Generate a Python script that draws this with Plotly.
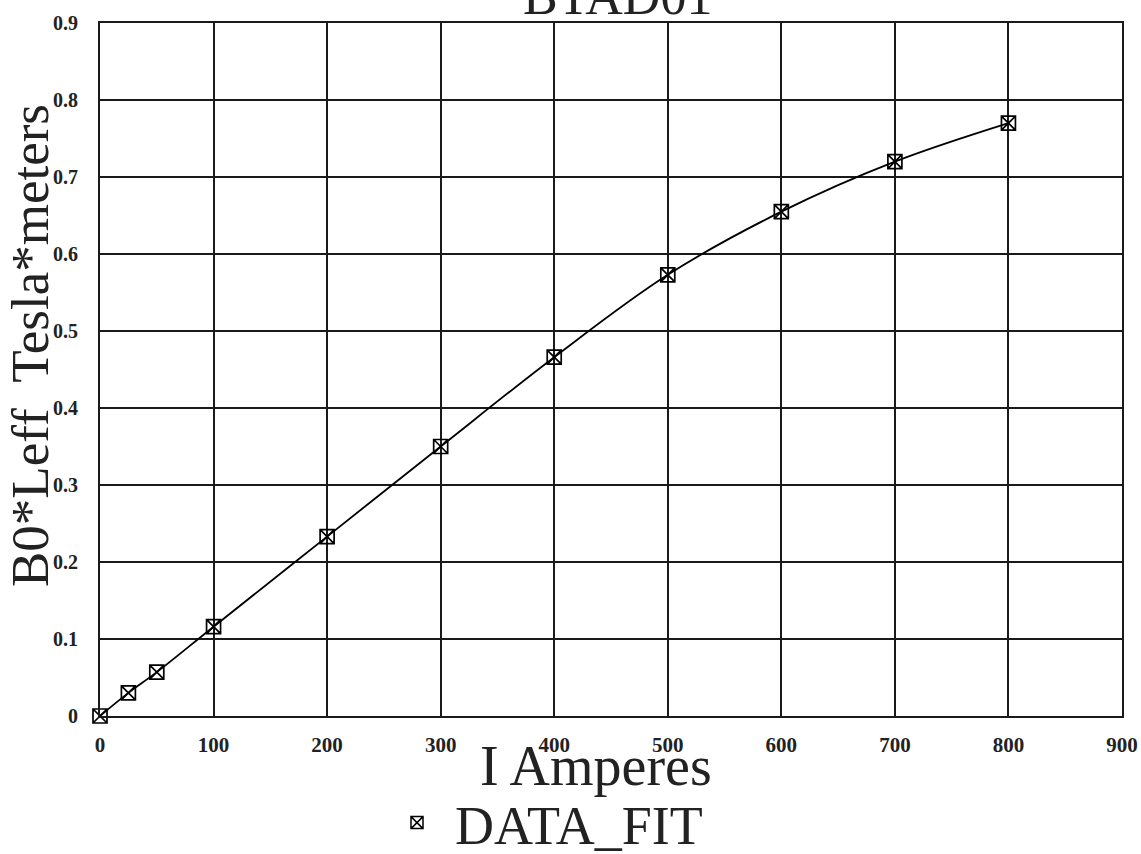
import plotly.graph_objects as go

# ---- data ----
current_A = [0, 25, 50, 100, 200, 300, 400, 500, 600, 700, 800]
b0_leff = [0.0, 0.030, 0.057, 0.116, 0.233, 0.350, 0.466, 0.573, 0.655, 0.720, 0.770]
x_ticks = [0, 100, 200, 300, 400, 500, 600, 700, 800, 900]
y_ticks = [0, 0.1, 0.2, 0.3, 0.4, 0.5, 0.6, 0.7, 0.8, 0.9]
y_tick_text = ["0", "0.1", "0.2", "0.3", "0.4", "0.5", "0.6", "0.7", "0.8", "0.9"]
title_text = "BTAD01"
x_title = "I Amperes"
y_title = "B0*Leff  Tesla*meters"
series_name = "DATA_FIT"

W, H = 1141, 854
L, R, T, B = 100, 1122, 23, 716  # plot area in pixels

def px_x(p):
    return (p - L) / (R - L)

def px_y(p):
    return (B - p) / (B - T)

SERIF = "Liberation Serif, Times New Roman, serif"

fig = go.Figure()
fig.add_trace(go.Scatter(
    x=current_A, y=b0_leff, mode="lines+markers",
    line=dict(color="black", width=1.8, shape="spline"),
    marker=dict(symbol="square-x-open", size=14, color="black",
                line=dict(color="black", width=1.7)),
    showlegend=False, cliponaxis=False,
))
fig.add_trace(go.Scatter(
    x=[None], y=[None], mode="markers", name=series_name,
    marker=dict(symbol="square-x-open", size=12, color="black",
                line=dict(color="black", width=1.5)),
    showlegend=True,
))

fig.update_layout(
    width=W, height=H,
    margin=dict(l=L, r=W - R, t=T, b=H - B, pad=0, autoexpand=False),
    paper_bgcolor="white", plot_bgcolor="white",
    font=dict(family=SERIF, color="black"),
    showlegend=True,
    legend=dict(
        x=px_x(379), y=px_y(781), xanchor="left", yanchor="top",
        font=dict(family=SERIF, size=54, color="#222"),
        bgcolor="rgba(0,0,0,0)", valign="bottom", itemwidth=66,
    ),
    xaxis=dict(
        range=[0, 900], tickmode="array", tickvals=x_ticks,
        showgrid=True, gridcolor="#1a1a1a", gridwidth=1.7,
        showline=True, linecolor="#1a1a1a", linewidth=1.9, mirror=True,
        zeroline=False, ticks="outside", ticklen=9, tickcolor="rgba(0,0,0,0)",
        tickfont=dict(family=SERIF, size=21, color="#222", weight="bold"),
    ),
    yaxis=dict(
        range=[0, 0.9], tickmode="array", tickvals=y_ticks, ticktext=y_tick_text,
        showgrid=True, gridcolor="#1a1a1a", gridwidth=1.7,
        showline=True, linecolor="#1a1a1a", linewidth=1.9, mirror=True,
        zeroline=False, ticks="outside", ticklen=16, tickcolor="rgba(0,0,0,0)",
        tickfont=dict(family=SERIF, size=20, color="#222", weight="bold"),
    ),
    annotations=[
        dict(text=title_text, xref="paper", yref="paper",
             x=px_x(617), y=px_y(27), xanchor="center", yanchor="bottom",
             showarrow=False, font=dict(family=SERIF, size=52, color="#222")),
        dict(text=x_title, xref="paper", yref="paper",
             x=px_x(596), y=px_y(766), xanchor="center", yanchor="middle",
             showarrow=False, font=dict(family=SERIF, size=56, color="#222")),
        dict(text=y_title, xref="paper", yref="paper", textangle=-90,
             x=px_x(30), y=px_y(346), xanchor="center", yanchor="middle",
             showarrow=False, font=dict(family=SERIF, size=53, color="#222")),
    ],
)

fig.write_html("out.html")
